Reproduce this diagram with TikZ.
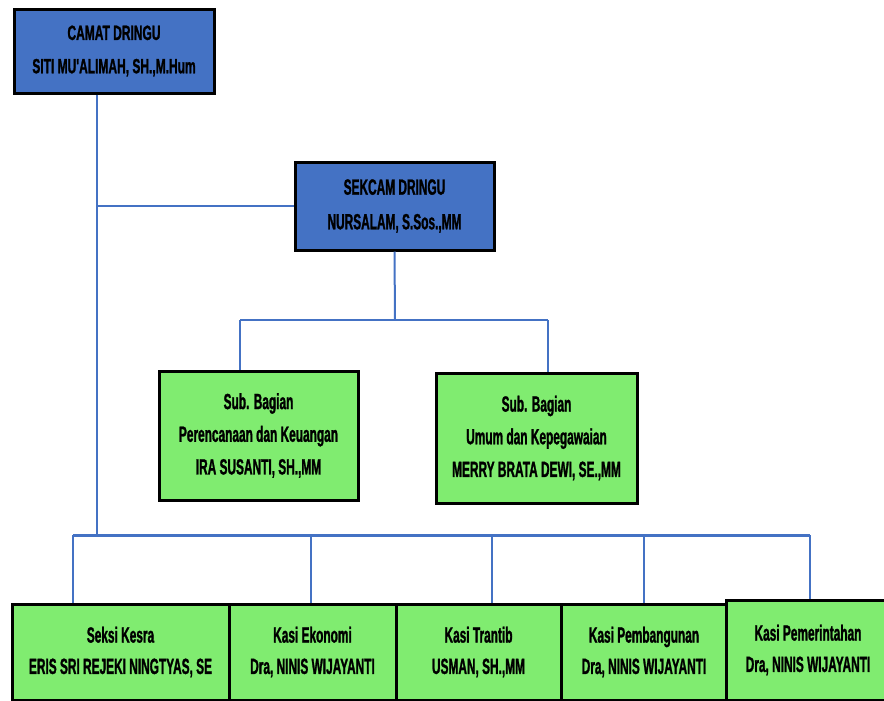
\documentclass[tikz,border=0pt]{standalone}
\usepackage{fontspec}
\setmainfont{Liberation Sans}[FakeStretch=0.54, BoldFeatures={FakeBold=1.2}]
\newfontfamily\camatfont{Liberation Sans}[FakeStretch=0.58, BoldFeatures={FakeBold=1.2}]
\definecolor{boxblue}{RGB}{68,114,196}
\definecolor{boxgreen}{RGB}{128,236,112}
\definecolor{lineblue}{RGB}{68,114,196}

\tikzset{every picture/.style={line width=0.75pt}}
\tikzset{
  headbox/.style={draw=black, line width=2.25pt, fill=boxblue, align=center, inner sep=0.75pt,
    font=\fontsize{16.5}{26}\selectfont\bfseries},
  unitbox/.style={draw=black, line width=2.25pt, fill=boxgreen, align=center, inner sep=0.75pt,
    font=\fontsize{16.5}{24.5}\selectfont\bfseries},
  seksibox/.style={unitbox, font=\fontsize{16.5}{23.5}\selectfont\bfseries},
  link/.style={draw=lineblue, line width=1.5pt},
}

\begin{document}
\begin{tikzpicture}[x=0.75pt,y=0.75pt,yscale=-1,xscale=1]
	\useasboundingbox (0,0) rectangle (884,700);

	%Shape: Rectangle [id:camat]
	\node (camat) at (114,51) [headbox, minimum width=150pt, minimum height=63pt, font=\camatfont\fontsize{15.5}{25}\selectfont\bfseries] {CAMAT DRINGU\\SITI MU'ALIMAH, SH.,M.Hum};
	%Shape: Rectangle [id:sekcam]
	\node (sekcam) at (394.5,206) [headbox, minimum width=149.25pt, minimum height=66pt] {SEKCAM DRINGU\\NURSALAM, S.Sos.,MM};
	%Shape: Rectangle [id:subbag1]
	\node (subbag1) at (258.5,435.5) [unitbox, minimum width=149.25pt, minimum height=96.75pt] {Sub. Bagian\\Perencanaan dan Keuangan\\IRA SUSANTI, SH.,MM};
	%Shape: Rectangle [id:subbag2]
	\node (subbag2) at (536.5,438) [unitbox, minimum width=150.75pt, minimum height=97.5pt] {Sub. Bagian\\Umum dan Kepegawaian\\MERRY BRATA DEWI, SE.,MM};

	%Shape: Rectangle [id:kesra]
	\node (kesra) at (120.5,652) [seksibox, minimum width=162.75pt, minimum height=72pt] {Seksi Kesra\\ERIS SRI REJEKI NINGTYAS, SE};
	%Shape: Rectangle [id:ekonomi]
	\node (ekonomi) at (312.5,652) [seksibox, minimum width=125.25pt, minimum height=72pt] {Kasi Ekonomi\\Dra, NINIS WIJAYANTI};
	%Shape: Rectangle [id:trantib]
	\node (trantib) at (478.5,652) [seksibox, minimum width=123.75pt, minimum height=72pt] {Kasi Trantib\\USMAN, SH.,MM};
	%Shape: Rectangle [id:pembangunan]
	\node (pembangunan) at (644,652) [seksibox, minimum width=124.5pt, minimum height=72pt] {Kasi Pembangunan\\Dra, NINIS WIJAYANTI};
	%Shape: Rectangle [id:pemerintahan]
	\node (pemerintahan) at (808,650) [seksibox, minimum width=122.25pt, minimum height=75pt] {Kasi Pemerintahan\\Dra, NINIS WIJAYANTI};

	% Connector points
	\coordinate (trunk) at (97,535);
	\coordinate (subbus) at (395,320);
	\coordinate (subleft) at (240,320);
	\coordinate (subright) at (548,320);
	\coordinate (busleft) at (73,535);
	\coordinate (busright) at (810,535);
	\coordinate (drop2) at (311,535);
	\coordinate (drop3) at (492,535);
	\coordinate (drop4) at (644,535);

	%Straight Lines: camat to seksi bus
	\draw [link] (trunk |- camat.south) -- (trunk);
	\draw [link] (trunk |- sekcam.west) -- (sekcam.west);
	%Straight Lines: sekcam to sub bagian
	\draw [link] (sekcam.south) -- (subbus);
	\draw [link] (subleft) -- (subright);
	\draw [link] (subleft) -- (subleft |- subbag1.north);
	\draw [link] (subright) -- (subright |- subbag2.north);
	%Straight Lines: seksi bus
	\draw [link, line width=2.25pt] (busleft) -- (busright);
	\draw [link] (busleft) -- (busleft |- kesra.north);
	\draw [link] (drop2) -- (drop2 |- ekonomi.north);
	\draw [link] (drop3) -- (drop3 |- trantib.north);
	\draw [link] (drop4) -- (drop4 |- pembangunan.north);
	\draw [link] (busright) -- (busright |- pemerintahan.north);
\end{tikzpicture}
\end{document}
